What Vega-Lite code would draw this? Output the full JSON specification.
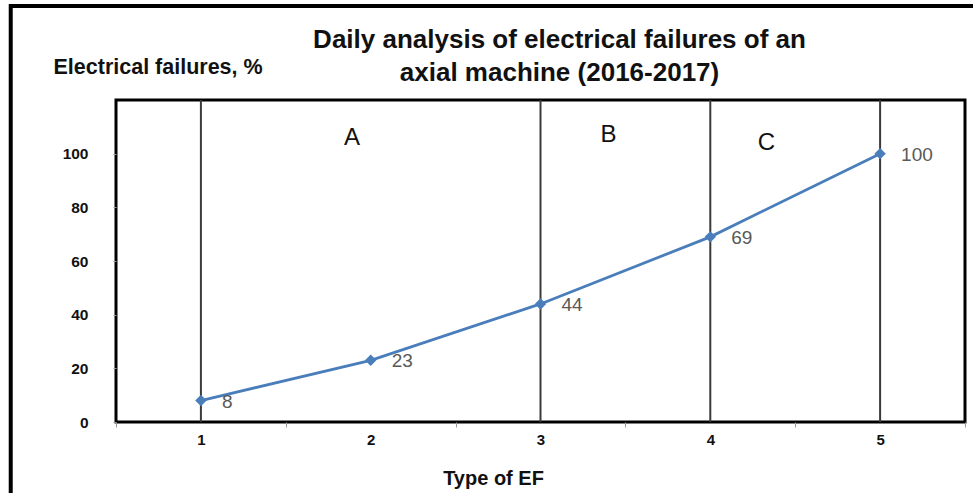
{
  "$schema": "https://vega.github.io/schema/vega-lite/v6.json",
  "width": 849,
  "height": 322,
  "autosize": {"type": "none"},
  "padding": {"left": 116, "top": 100, "right": 8, "bottom": 71},
  "background": "white",
  "config": {
    "view": {"stroke": "black", "strokeWidth": 3},
    "font": "Liberation Sans"
  },
  "title": {
    "text": ["Daily analysis of electrical failures of an", "axial machine (2016-2017)"],
    "fontSize": 26,
    "fontWeight": "bold",
    "font": "Liberation Sans",
    "color": "#111111",
    "anchor": "middle",
    "dx": 19,
    "offset": -82,
    "lineHeight": 33
  },
  "datasets": {
    "series": [
      {"type": 1, "pct": 8},
      {"type": 2, "pct": 23},
      {"type": 3, "pct": 44},
      {"type": 4, "pct": 69},
      {"type": 5, "pct": 100}
    ],
    "dividers": [{"type": 1}, {"type": 3}, {"type": 4}, {"type": 5}],
    "zones": [
      {"zone": "A", "xpos": 1.89, "ypos": 106},
      {"zone": "B", "xpos": 3.4, "ypos": 107},
      {"zone": "C", "xpos": 4.33, "ypos": 104}
    ],
    "frame": [{"x1": -0.12, "x2": 6.5, "y1": 155, "y2": -60}]
  },
  "layer": [
    {
      "data": {"name": "frame"},
      "mark": {"type": "rect", "fill": null, "stroke": "black", "strokeWidth": 4, "clip": false},
      "encoding": {
        "x": {"field": "x1", "type": "quantitative", "scale": {"domain": [0.5, 5.5]}},
        "x2": {"field": "x2"},
        "y": {"field": "y1", "type": "quantitative", "scale": {"domain": [0, 120]}},
        "y2": {"field": "y2"}
      }
    },
    {
      "data": {"name": "dividers"},
      "mark": {"type": "rule", "color": "#3a3a3a", "strokeWidth": 2},
      "encoding": {
        "x": {"field": "type", "type": "quantitative"}
      }
    },
    {
      "data": {"name": "series"},
      "mark": {"type": "line", "color": "#4a7ebb", "strokeWidth": 2.8},
      "encoding": {
        "x": {
          "field": "type",
          "type": "quantitative",
          "scale": {"domain": [0.5, 5.5], "nice": false, "zero": false},
          "axis": {
            "values": [0.5, 1, 1.5, 2, 2.5, 3, 3.5, 4, 4.5, 5, 5.5],
            "labelExpr": "datum.value % 1 == 0 ? datum.value : ''",
            "grid": false,
            "domain": false,
            "tickSize": 5,
            "tickColor": "#999999",
            "tickOpacity": {"condition": {"test": "datum.value % 1 == 0", "value": 0}, "value": 1},
            "labelFontSize": 15,
            "labelFontWeight": "bold",
            "labelColor": "#111111",
            "labelPadding": 5,
            "title": "Type of EF",
            "titleFontSize": 20,
            "titleFontWeight": "bold",
            "titleColor": "#111111",
            "titleX": 377,
            "titleY": 62,
            "titleAlign": "center",
            "titleBaseline": "alphabetic"
          }
        },
        "y": {
          "field": "pct",
          "type": "quantitative",
          "scale": {"domain": [0, 120], "nice": false},
          "axis": {
            "values": [0, 20, 40, 60, 80, 100],
            "grid": false,
            "domain": false,
            "tickSize": 3,
            "tickColor": "#999999",
            "labelFontSize": 15.5,
            "labelFontWeight": "bold",
            "labelColor": "#111111",
            "labelPadding": 25,
            "title": "Electrical failures, %",
            "titleFontSize": 21.5,
            "titleFontWeight": "bold",
            "titleColor": "#111111",
            "titleAngle": 0,
            "titleX": -63,
            "titleY": -27,
            "titleAlign": "left",
            "titleBaseline": "alphabetic"
          }
        }
      }
    },
    {
      "data": {"name": "series"},
      "mark": {"type": "point", "shape": "diamond", "filled": true, "color": "#4a7ebb", "size": 130, "opacity": 1},
      "encoding": {
        "x": {"field": "type", "type": "quantitative"},
        "y": {"field": "pct", "type": "quantitative"}
      }
    },
    {
      "data": {"name": "series"},
      "mark": {"type": "text", "align": "left", "baseline": "middle", "dx": 21, "dy": 1, "fontSize": 19, "color": "#595959", "font": "Liberation Sans"},
      "encoding": {
        "x": {"field": "type", "type": "quantitative"},
        "y": {"field": "pct", "type": "quantitative"},
        "text": {"field": "pct", "type": "quantitative"}
      }
    },
    {
      "data": {"name": "zones"},
      "mark": {"type": "text", "align": "center", "baseline": "middle", "fontSize": 24, "color": "#111111", "font": "Liberation Sans"},
      "encoding": {
        "x": {"field": "xpos", "type": "quantitative"},
        "y": {"field": "ypos", "type": "quantitative"},
        "text": {"field": "zone", "type": "nominal"}
      }
    }
  ]
}
